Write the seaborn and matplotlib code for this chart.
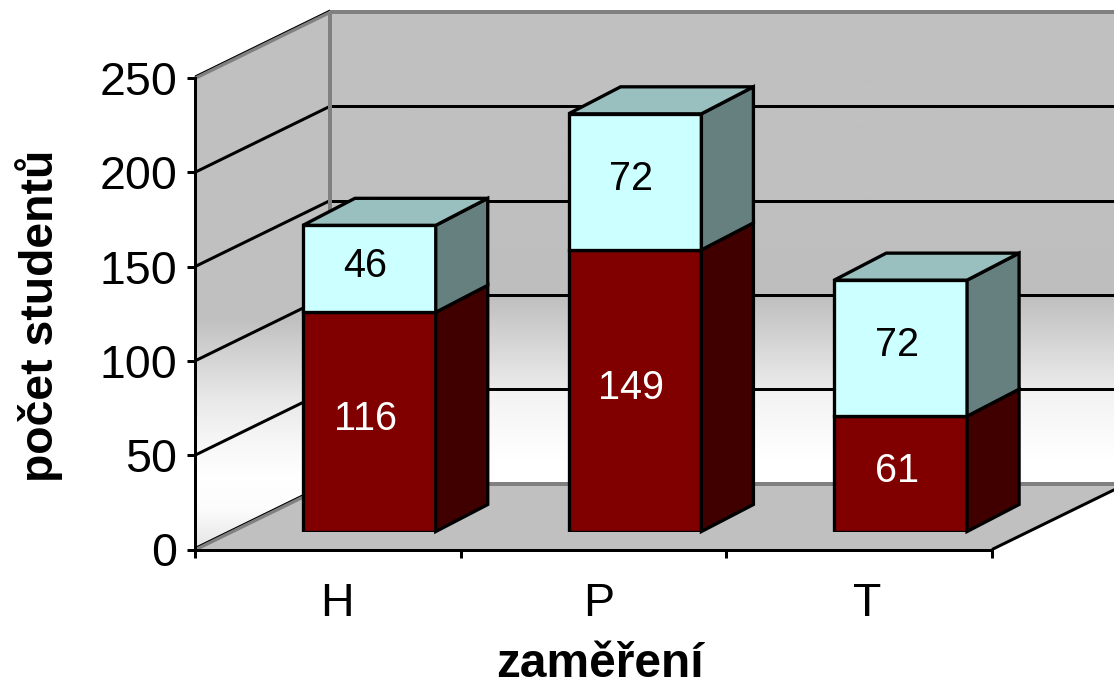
import numpy as np
import matplotlib
matplotlib.use('Agg')
import matplotlib.pyplot as plt
from matplotlib.patches import Polygon
from matplotlib.transforms import Affine2D, IdentityTransform
from matplotlib.colors import LinearSegmentedColormap
import seaborn as sns

# data
zamereni = ['H', 'P', 'T']
dolni = [116, 149, 61]
horni = [46, 72, 72]
y_ticks = [0, 50, 100, 150, 200, 250]

sns.set_theme(style='white')
plt.rcParams['font.family'] = ['Liberation Sans', 'DejaVu Sans']

W, H = 1114, 682
DPI = 100
PX = 72 / DPI
WALL_DX, WALL_DY = 135, 66   # depth of the chart box, px
BAR_DX, BAR_DY = 52, 27      # depth of one bar, px


def box(left, top, right, bottom):
    return [left / W, 1 - bottom / H, (right - left) / W, (bottom - top) / H]


fig = plt.figure(figsize=(W / DPI, H / DPI), dpi=DPI, facecolor='white')
ax = fig.add_axes(box(195, 78, 992, 549.5))
ax.set_xlim(-0.5, 2.5)
ax.set_ylim(0, 250)
ax.patch.set_visible(False)
x0, x1 = ax.get_xlim()


def px(x, y):
    return ax.transData.transform((x, y))


def line(a, b, color, lw=3 * PX, z=2):
    ax.plot(*np.c_[a, b], transform=IdentityTransform(), color=color, lw=lw, zorder=z,
            solid_capstyle='butt', clip_on=False)


off = np.array([WALL_DX, WALL_DY])
p_bl, p_br, p_tl = px(x0, 0), px(x1, 0), px(x0, 250)

# wall gradients
back_cmap = LinearSegmentedColormap.from_list('back', [(0, '#c0c0c0'), (0.4, '#c0c0c0'), (0.6, '#bebebe'),
                                                       (0.8, '#ebebeb'), (0.81, '#f3f3f3'), (0.95, '#ffffff'),
                                                       (1, '#ffffff')])
left_cmap = LinearSegmentedColormap.from_list('left', [(0, '#c0c0c0'), (0.57, '#c0c0c0'), (0.72, '#e8e8e8'),
                                                       (0.81, '#f8f8f8'), (0.87, '#ffffff'), (0.93, '#fcfcfc'),
                                                       (1, '#e4e4e4')])
grad = np.linspace(0, 1, 256).reshape(-1, 1)
ax.imshow(grad, cmap=back_cmap, aspect='auto', extent=(x0, x1, 0, 250),
          transform=ax.transData + Affine2D().translate(WALL_DX, WALL_DY),
          zorder=0, clip_on=False)
# left wall image spans the wall's whole screen height, then is cut to the wall's shape
corner = ax.transData.inverted().transform(p_tl + off)
left_img = ax.imshow(grad, cmap=left_cmap, aspect='auto', extent=(x0, corner[0], 0, corner[1]), zorder=0.1)
left_wall = Polygon([p_bl, p_tl, p_tl + off, p_bl + off], transform=IdentityTransform(), fc='none', ec='none')
ax.add_patch(left_wall)
left_img.set_clip_on(True)
left_img.set_clip_box(fig.bbox)
left_img.set_clip_path(left_wall)
ax.set_xlim(x0, x1)
ax.set_ylim(0, 250)

# floor
ax.add_patch(Polygon([p_bl, p_br, p_br + off, p_bl + off], transform=IdentityTransform(),
                     fc='#c0c0c0', ec='none', zorder=1, clip_on=False))

# gridlines on back wall and left wall
for v in y_ticks:
    a, b = px(x0, v), px(x1, v)
    col = '#808080' if v in (0, 250) else 'black'
    w = 4 * PX if v in (0, 250) else 3 * PX
    line(a + off, b + off, col, w)
    line(a, a + off, col, w)
    if v in (0, 250):
        # thin dark rim on the slanted wall edges
        up = np.array([0, 2])
        line(a + up, a + off + up, 'black', 1 * PX)
line(p_bl + off, p_tl + off, '#808080', 4 * PX)
line(p_br, p_br + off, 'black')

# axes
for side in ['top', 'right']:
    ax.spines[side].set_visible(False)
for side in ['left', 'bottom']:
    ax.spines[side].set_color('black')
    ax.spines[side].set_linewidth(3 * PX)
ax.set_yticks(y_ticks)
ax.set_xticks([-0.5, 0.5, 1.5, 2.5])
ax.set_xticklabels([])
ax.tick_params(axis='both', which='major', length=8 * PX, width=3 * PX, color='black', left=True, bottom=True,
               labelsize=33.5, pad=7, labelcolor='black')
for i, lab in enumerate(zamereni):
    ax.annotate(lab, xy=(i, 0), xytext=[(9, -67), (5, -67), (8, -67)][i], textcoords='offset pixels',
                ha='center', va='baseline', fontsize=33.5, color='black', annotation_clip=False)
fig.text(600 / W, 1 - 677 / H, 'zaměření', ha='center', va='baseline', fontsize=34.5, fontweight='bold', color='black')
fig.text(39 / W, 1 - 316 / H, 'počet studentů', rotation=90, ha='center', va='center', fontsize=33.4,
         fontweight='bold', color='black')

# bars live in their own axes, moved into the depth of the box
bar_ax = fig.add_axes(box(195 + 41.5, 59, 992 + 41.5, 531.5))
bar_ax.patch.set_visible(False)
sns.barplot(x=zamereni, y=dolni, color='#800000', saturation=1, width=0.5, edgecolor='black', linewidth=3.3 * PX,
            ax=bar_ax)
sns.barplot(x=zamereni, y=horni, bottom=dolni, color='#ccffff', saturation=1, width=0.5, edgecolor='black',
            linewidth=3.3 * PX, ax=bar_ax)
bar_ax.set_xlim(-0.5, 2.5)
bar_ax.set_ylim(0, 250)
bar_ax.axis('off')

d = np.array([BAR_DX, BAR_DY])
for cont, side_col, txt in zip(bar_ax.containers, ['#400000', '#667f7f'], ['white', 'black']):
    for rect in cont:
        x, y, w, h = rect.get_x(), rect.get_y(), rect.get_width(), rect.get_height()
        br = bar_ax.transData.transform((x + w, y))
        tr = bar_ax.transData.transform((x + w, y + h))
        tl = bar_ax.transData.transform((x, y + h))
        bar_ax.add_patch(Polygon([br, tr, tr + d, br + d], transform=IdentityTransform(), fc=side_col,
                                 ec='black', lw=3.3 * PX, joinstyle='miter', clip_on=False))
        if side_col == '#667f7f':
            bar_ax.add_patch(Polygon([tl, tr, tr + d, tl + d], transform=IdentityTransform(), fc='#99bfbf',
                                     ec='black', lw=3.3 * PX, joinstyle='miter', clip_on=False))
    for ann in bar_ax.bar_label(cont, label_type='center', color=txt, fontsize=28.5):
        ann.xyann = (-4 * PX, 3 * PX)

fig.savefig('out.png', dpi=DPI)
